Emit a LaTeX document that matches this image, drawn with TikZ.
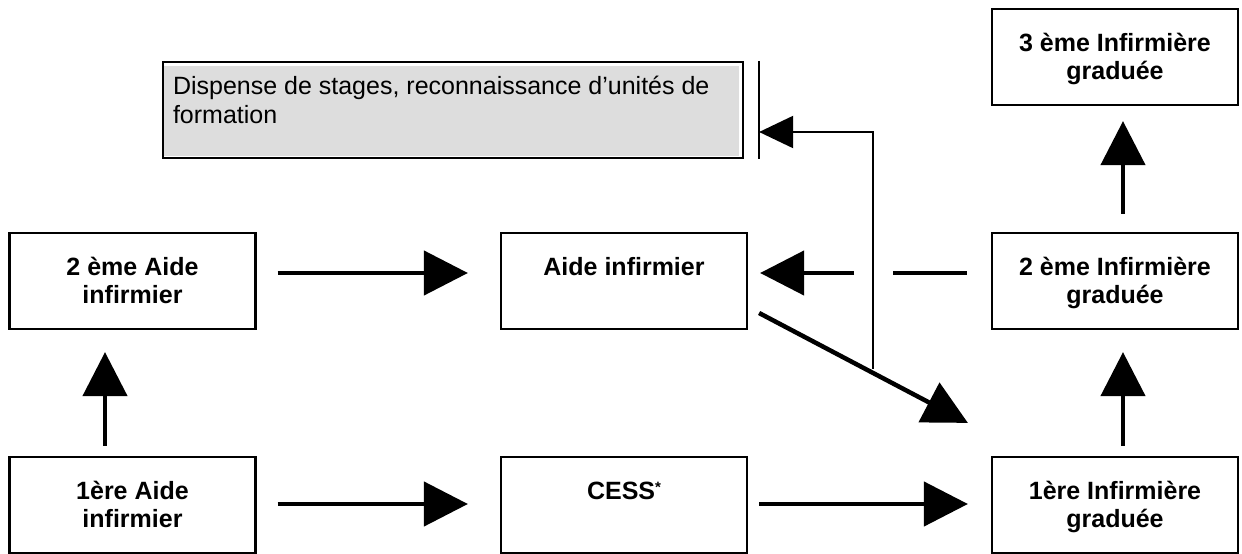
\documentclass[tikz,border=0pt]{standalone}
\usepackage{fontspec}
\setmainfont{Liberation Sans}
\usetikzlibrary{arrows.meta,calc,backgrounds}
\definecolor{gfill}{HTML}{DDDDDD}
\newcommand\boxtxt[1]{\parbox[c][96pt][t]{246pt}{\centering\rule{0pt}{42pt}#1\par}}
\tikzset{
  box/.style={draw, line width=2.2pt, inner sep=0pt, font=\fontsize{25pt}{28pt}\selectfont\bfseries},
  gbox/.style={draw, line width=2.2pt, inner xsep=10pt, inner ysep=0pt, font=\fontsize{25pt}{29pt}\selectfont},
  arr/.style={line width=4.5pt, -{Triangle[length=44pt,width=44pt]}},
  thinarr/.style={line width=2pt, -{Triangle[length=34pt,width=32pt]}},
  thinline/.style={line width=2pt},
  thickline/.style={line width=4.5pt}
}
\begin{document}
\begin{tikzpicture}[x=1pt,y=-1pt]
\useasboundingbox (0,0) rectangle (1242,554);
% boxes
\node[box] (a2) at (132.5,281) {\boxtxt{2 ème Aide\\infirmier}};
\node[box] (a1) at (132.5,505) {\boxtxt{1ère Aide\\infirmier}};
\node[box] (ai) at (624,281) {\boxtxt{Aide infirmier}};
\node[box] (ce) at (624,505) {\boxtxt{CESS\raisebox{7pt}{\fontsize{15pt}{15pt}\selectfont*}}};
\node[box] (i1) at (1115,505) {\boxtxt{1ère Infirmière\\graduée}};
\node[box] (i2) at (1115,281) {\boxtxt{2 ème Infirmière\\graduée}};
\node[box] (i3) at (1115,57) {\boxtxt{3 ème Infirmière\\graduée}};
% grey box
\node[gbox] (g) at (453,110) {\parbox[c][96pt][t]{560pt}{\raggedright\rule{0pt}{32pt}Dispense de stages, reconnaissance d’unités de\\formation\par}};
\begin{scope}[on background layer]
\fill[gfill] ($(g.north west)+(1,5)$) rectangle ($(g.south east)+(-5,-3)$);
\end{scope}
% bar beside grey box
\coordinate (bt) at ($(g.north east)+(15,0)$);
\coordinate (bb) at ($(g.south east)+(15,0)$);
\coordinate (bm) at ($(g.east)+(15,22)$);
\draw[thinline] (bt) -- (bb);
% branch from diagonal arrow up to the bar
\coordinate (br) at (873,369);
\draw[thinarr] (br) |- (bm);
% arrows
\draw[arr] ($(a1.north)+(-27.5,-10)$) -- ($(a2.south)+(-27.5,22)$);
\draw[arr] ($(a2.east)+(21,-8)$) -- ($(ai.west)+(-32,-8)$);
\draw[arr] ($(a1.east)+(21,-1)$) -- ($(ce.west)+(-32,-1)$);
\draw[arr] ($(ce.east)+(11,-1)$) -- ($(i1.west)+(-23,-1)$);
\draw[arr] ($(ai.east)+(11,32)$) -- ($(i1.north west)+(-23,-33)$);
\draw[arr] ($(i1.north)+(8,-10)$) -- ($(i2.south)+(8,22)$);
\draw[arr] ($(i2.north)+(8,-18)$) -- ($(i3.south)+(8,15)$);
% broken arrow from 2eme Infirmiere to Aide infirmier
\coordinate (gr) at ($(br |- ai.east)+(20,-8)$);
\coordinate (gl) at ($(br |- ai.east)+(-19,-8)$);
\draw[thickline] ($(i2.west)+(-24,-8)$) -- (gr);
\draw[arr] (gl) -- ($(ai.east)+(12,-8)$);
\end{tikzpicture}
\end{document}
